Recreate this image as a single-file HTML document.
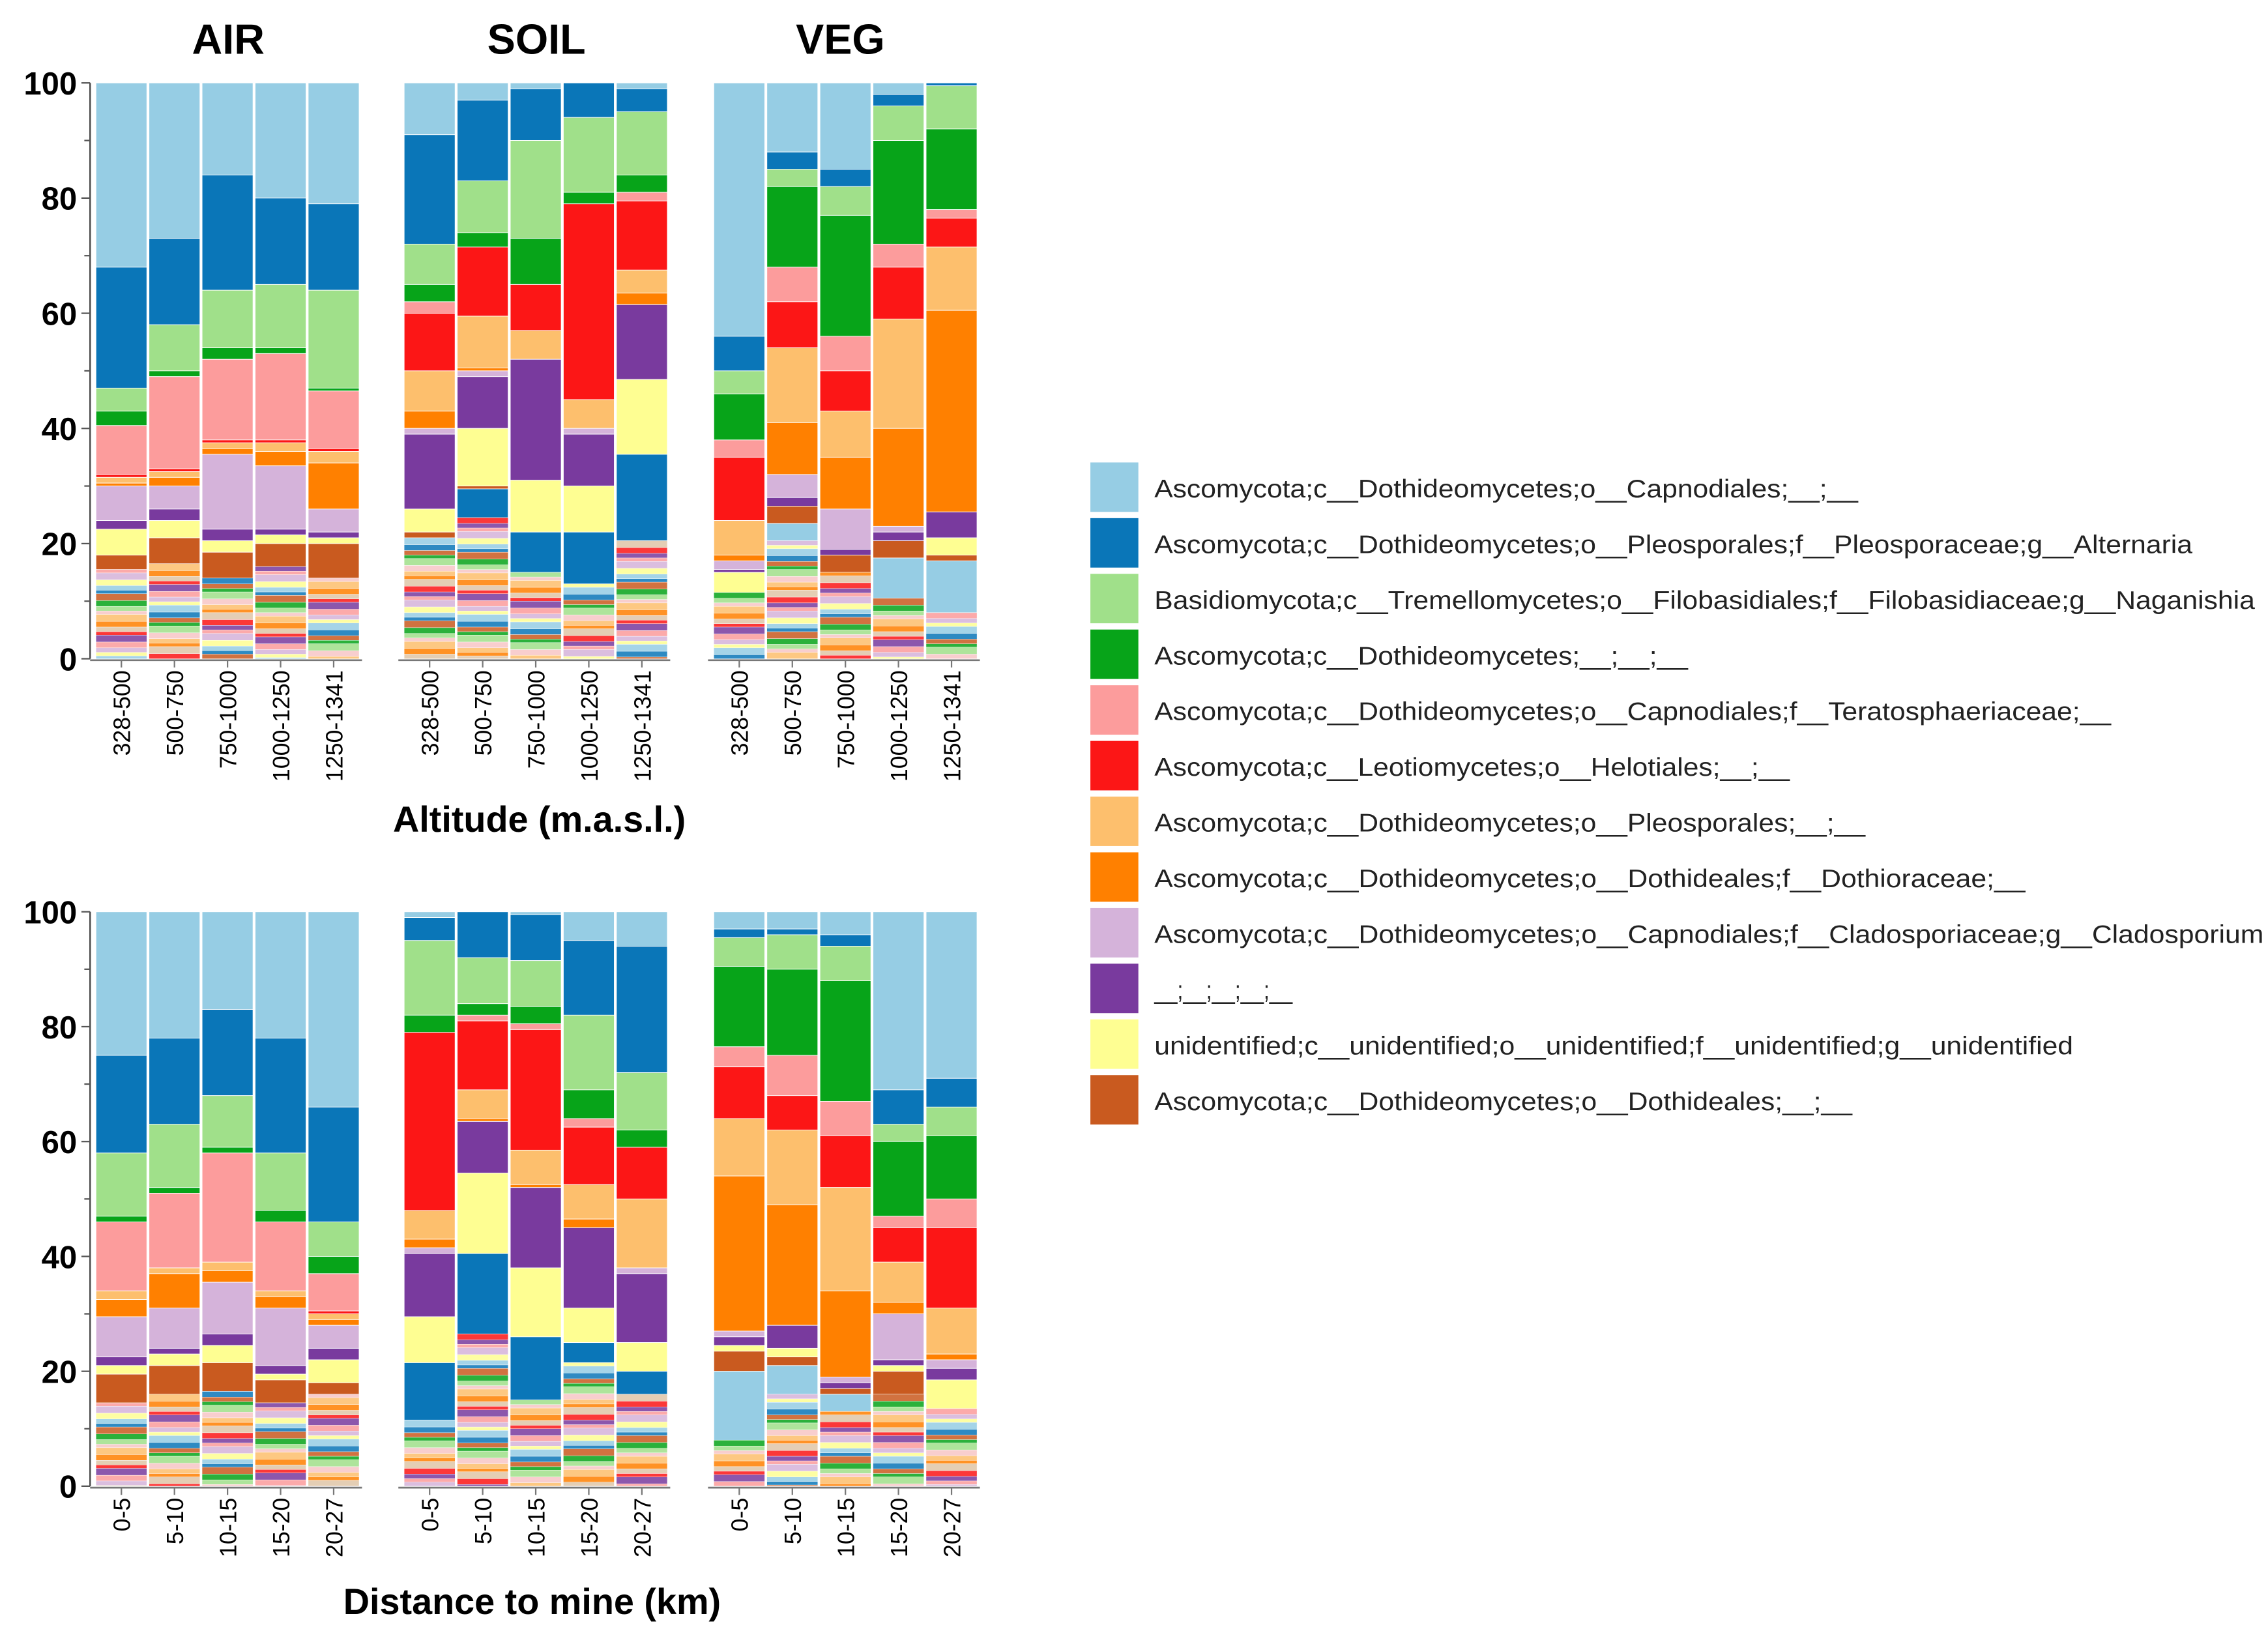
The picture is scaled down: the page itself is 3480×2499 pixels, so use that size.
<!DOCTYPE html>
<html><head><meta charset="utf-8"><style>
html,body{margin:0;padding:0;background:#fff;}
svg{display:block;}
text{font-family:"Liberation Sans",Arial,sans-serif;}
</style></head><body>
<svg id="chart" width="3480" height="2499" viewBox="0 0 1560 1120.2" xmlns="http://www.w3.org/2000/svg"></svg>
<script>
const taxa = ["Ascomycota;c__Dothideomycetes;o__Capnodiales;__;__","Ascomycota;c__Dothideomycetes;o__Pleosporales;f__Pleosporaceae;g__Alternaria","Basidiomycota;c__Tremellomycetes;o__Filobasidiales;f__Filobasidiaceae;g__Naganishia","Ascomycota;c__Dothideomycetes;__;__;__","Ascomycota;c__Dothideomycetes;o__Capnodiales;f__Teratosphaeriaceae;__","Ascomycota;c__Leotiomycetes;o__Helotiales;__;__","Ascomycota;c__Dothideomycetes;o__Pleosporales;__;__","Ascomycota;c__Dothideomycetes;o__Dothideales;f__Dothioraceae;__","Ascomycota;c__Dothideomycetes;o__Capnodiales;f__Cladosporiaceae;g__Cladosporium","__;__;__;__;__","unidentified;c__unidentified;o__unidentified;f__unidentified;g__unidentified","Ascomycota;c__Dothideomycetes;o__Dothideales;__;__"];
const colors = ["#96cde4","#0a76b8","#a0e08a","#07a419","#fc9c9c","#fc1616","#fdbf6d","#ff8000","#d5b3da","#793a9e","#fefe92","#c95a1f"];
const legendEnds = [1278,1508,1551,1161,1452,1231,1283,1393,1557,889,1426,1274];
const groups = ["AIR","SOIL","VEG"];
const altLabels = ["328-500","500-750","750-1000","1000-1250","1250-1341"];
const distLabels = ["0-5","5-10","10-15","15-20","20-27"];
const yTicks = [0,20,40,60,80,100];
const topLB  = [32,27,16,20,21, 9,3,1,0,1, 44,12,15,2,0];
const topAlt = [21,15,20,15,15, 19,14,9,6,4, 6,3,3,2,0.5];
const topNag = [4,8,10,11,17, 7,9,17,13,11, 4,3,5,6,7.5];
const topGrn = [2.5,1,2,1,0.5, 3,2.5,8,2,3, 8,14,21,18,14];
const topPnk = [8.5,16,14,15,10, 2,0,0,0,1.5, 3,6,6,4,1.5];
const topRed = [0.5,0.5,0.5,0.5,0.5, 10,12,8,34,12, 11,8,7,9,5];
const topLO  = [1,1,1,1.5,2, 7,9,5,5,4, 6,13,8,19,11];
const topOr  = [0.5,1.5,1,2.5,8, 3,0.5,0,0,2, 1,9,9,17,35];
const topLil = [6,4,13,11,4, 1,1,0,1,0, 1.5,4,7,1,0];
const topPur = [1.5,2,2,1,1, 13,9,21,9,13, 0.5,1.5,1,1.5,4.5];
const topYel = [4.5,3,2,1.5,1, 4,10,9,8,13, 3.5,0,0,0,3];
const topBrn = [2.5,4.5,4.5,4,6, 1,0.5,0,0,0, 0,3,3,3,1];
const topLowA = [0,0,0,0,0, 0,5,7,9,15, 0,0,0,0,0];
const topLowB = [0,0,0,0,0, 0,0,0,0,0, 0,3,0,7,9];
const botLB  = [25,22,17,22,34, 1,0,0.5,5,6, 3,3,4,31,29];
const botAlt = [17,15,15,20,20, 4,8,8,13,22, 1.5,1,2,6,5];
const botNag = [11,11,9,10,6, 13,8,8,13,10, 5,6,6,3,5];
const botGrn = [1,1,1,2,3, 3,2,3,5,3, 14,15,21,13,11];
const botPnk = [12,13,19,12,6.5, 0,1,1,1.5,0, 3.5,7,6,2,5];
const botRed = [0,0,0,0,0.5, 31,12,21,10,9, 9,6,9,6,14];
const botLO  = [1.5,1,1.5,1,1, 5,5,6,6,12, 10,13,18,7,8];
const botOr  = [3,6,2,2,1, 1.5,0.5,0.5,1.5,0, 27,21,15,2,1];
const botLil = [7,7,9,10,4, 1,0,0,0,1, 1,0,1,8,1.5];
const botPur = [1.5,1,2,1.5,2, 11,9,14,14,12, 1.5,4,1,1,2];
const botYel = [1.5,2,3,1,4, 8,14,12,6,5, 1,1.5,0,1,5];
const botBrn = [5,5,5,4,2, 0,0,0,0,0, 3.5,1.5,1,4,0];
const botLowA = [0,0,0,0,0, 10,14,11,3.5,4, 0,0,0,0,0];
const botLowB = [0,0,0,0,0, 0,0,0,0,0, 12,5,3,0,0];

const topSeries = [topLB,topAlt,topNag,topGrn,topPnk,topRed,topLO,topOr,topLil,topPur,topYel,topBrn];
const botSeries = [botLB,botAlt,botNag,botGrn,botPnk,botRed,botLO,botOr,botLil,botPur,botYel,botBrn];
const otherPal = ["#fc9c9c","#96cde4","#07a419","#fdbf6d","#fc1616","#d5b3da","#0a76b8","#a0e08a","#ff8000","#793a9e","#fefe92","#c95a1f","#f7c6c6","#e0c6a8"];

const NS="http://www.w3.org/2000/svg";
const svg=document.getElementById('chart');
function el(tag,attrs,parent){const e=document.createElementNS(NS,tag);for(const k in attrs)e.setAttribute(k,attrs[k]);(parent||svg).appendChild(e);return e;}
const groupX=[66,278,491];
const barW=35, pitch=36.5;

function drawPanel(series,lowA,lowB,y100,y0,labels,panelName){
  const yScale=v=>y0-(v/100)*(y0-y100);
  const g=el('g',{});
  
  
  const ax=el('line',{x1:62,x2:62,y1:y100,y2:y0,stroke:'#555','stroke-width':1.2},g);
  
  
  for(let v=0;v<=100;v+=10){
    const major=v%20===0;
    el('line',{x1:major?56:58,x2:62,y1:yScale(v),y2:yScale(v),stroke:'#555','stroke-width':1},g);
  }
  yTicks.forEach(v=>{
    const t=el('text',{x:53,y:yScale(v)+8,'text-anchor':'end','font-size':22,'font-weight':'bold',fill:'#000'},g);
    t.textContent=v;
    
    
  });
  for(let gi=0;gi<3;gi++){
    const gx=groupX[gi];
    el('line',{x1:gx-4,x2:gx+4*pitch+barW+2,y1:y0+1,y2:y0+1,stroke:'#777','stroke-width':1.2},g);
    for(let b=0;b<5;b++){
      const idx=gi*5+b;
      const x=gx+b*pitch;
      el('line',{x1:x+barW/2,x2:x+barW/2,y1:y0+1,y2:y0+6,stroke:'#777','stroke-width':1},g);
      let cum=100;
      const stack=[];
      for(let s=0;s<12;s++) stack.push([series[s][idx],colors[s]]);
      stack.push([lowA[idx],colors[1]]);
      stack.push([lowB[idx],colors[0]]);
      stack.forEach(([v,c])=>{
        if(v<=0)return;
        const r=el('rect',{x:x,y:yScale(cum),width:barW,height:yScale(cum-v)-yScale(cum),fill:c,stroke:'#fff','stroke-width':0.4},g);
        
        
        cum-=v;
      });
      let k=0;
      while(cum>0.01){
        const h=Math.min(0.6+((k*7+idx*3)%4)*0.2,cum);
        const r=el('rect',{x:x,y:yScale(cum),width:barW,height:yScale(cum-h)-yScale(cum),fill:otherPal[(k*5+idx*3)%otherPal.length],stroke:'#fff','stroke-width':0.2,opacity:0.85},g);
        
        
        cum-=h;k++;
      }
      const lx=x+barW/2+6, ly=y0+8;
      const t=el('text',{x:lx,y:ly,transform:`rotate(-90 ${lx} ${ly})`,'text-anchor':'end','font-size':16,fill:'#000'},g);
      t.textContent=labels[b];
      
      
    }
  }
}
drawPanel(topSeries,topLowA,topLowB,57,453,altLabels,'altitude-panel');
drawPanel(botSeries,botLowA,botLowB,627,1022,distLabels,'distance-panel');

const titleX=[157,369,578];
groups.forEach((n,i)=>{
  const t=el('text',{x:titleX[i],y:37,'text-anchor':'middle','font-size':29,'font-weight':'bold'});
  t.textContent=n;
  
  
});
let t1=el('text',{x:371,y:572,'text-anchor':'middle','font-size':25,'font-weight':'bold'});
t1.textContent='Altitude (m.a.s.l.)';


let t2=el('text',{x:366,y:1110,'text-anchor':'middle','font-size':25,'font-weight':'bold'});
t2.textContent='Distance to mine (km)';



const lg=el('g',{});


taxa.forEach((name,i)=>{
  const y=318+i*38.3;
  const r=el('rect',{x:750,y:y,width:33,height:34,fill:colors[i]},lg);
  
  
  const t=el('text',{x:794,y:y+24,'font-size':17.5,fill:'#222',textLength:legendEnds[i]-794,lengthAdjust:'spacingAndGlyphs'},lg);
  t.textContent=name;
  
  
});
</script>
</body></html>
